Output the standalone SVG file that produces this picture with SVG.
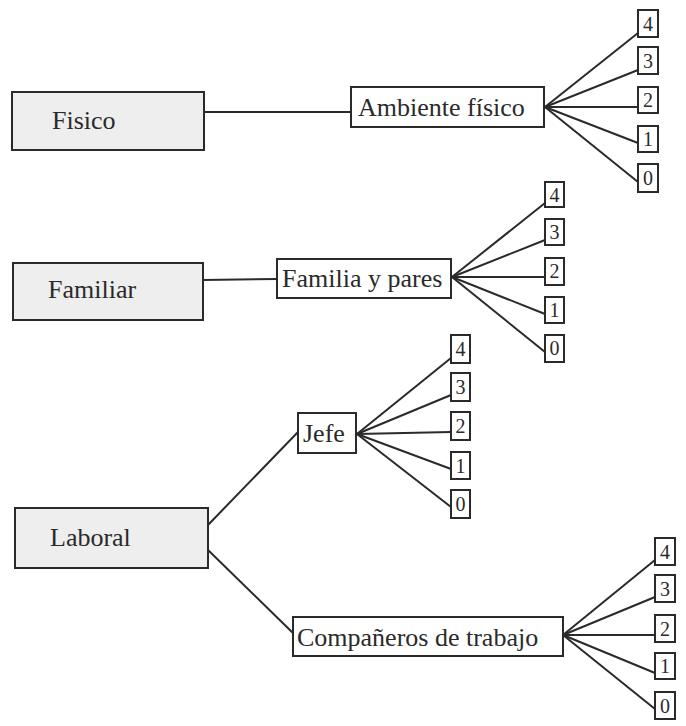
<svg xmlns="http://www.w3.org/2000/svg" width="686" height="726" viewBox="0 0 686 726">
<style>
.main{fill:#eeeeee;stroke:#2a2a2a;stroke-width:2}
.sub{fill:#ffffff;stroke:#2a2a2a;stroke-width:2}
.num{fill:#ffffff;stroke:#2a2a2a;stroke-width:2}
.t{font-family:"Liberation Serif","Times New Roman",serif;font-size:26px;fill:#2a2a2a}
.d{font-family:"Liberation Serif","Times New Roman",serif;font-size:20px;fill:#2a2a2a;text-anchor:middle}
.c line{stroke:#2a2a2a;stroke-width:2}
</style>
<rect width="686" height="726" fill="#ffffff"/>
<g id="connectors" class="c">
<line x1="204" y1="112" x2="351" y2="112"/>
<line x1="203" y1="280" x2="277" y2="279"/>
<line x1="208" y1="525" x2="298" y2="432"/>
<line x1="208" y1="550" x2="293" y2="633"/>
<line x1="545" y1="107" x2="638" y2="33"/>
<line x1="545" y1="107" x2="638" y2="70"/>
<line x1="545" y1="107" x2="638" y2="107"/>
<line x1="545" y1="107" x2="638" y2="143"/>
<line x1="545" y1="107" x2="638" y2="182"/>
<line x1="452" y1="277" x2="545" y2="203"/>
<line x1="452" y1="277" x2="545" y2="240"/>
<line x1="452" y1="277" x2="545" y2="277"/>
<line x1="452" y1="277" x2="545" y2="314"/>
<line x1="452" y1="277" x2="545" y2="352"/>
<line x1="357" y1="434" x2="451" y2="358"/>
<line x1="357" y1="434" x2="451" y2="395"/>
<line x1="357" y1="434" x2="451" y2="432"/>
<line x1="357" y1="434" x2="451" y2="469"/>
<line x1="357" y1="434" x2="451" y2="507"/>
<line x1="563" y1="635" x2="655" y2="560"/>
<line x1="563" y1="635" x2="655" y2="597"/>
<line x1="563" y1="635" x2="655" y2="635"/>
<line x1="563" y1="635" x2="655" y2="673"/>
<line x1="563" y1="635" x2="655" y2="709"/>
</g>
<g id="fisico"><rect class="main" x="12" y="92" width="192" height="58"/><text class="t" x="52" y="129">Fisico</text></g>
<g id="ambiente"><rect class="sub" x="351" y="87" width="193" height="40"/><text class="t" x="358" y="116">Ambiente físico</text></g>
<g id="familiar"><rect class="main" x="13" y="263" width="190" height="57"/><text class="t" x="48" y="298">Familiar</text></g>
<g id="familia"><rect class="sub" x="277" y="259" width="174" height="39"/><text class="t" x="282" y="287">Familia y pares</text></g>
<g id="laboral"><rect class="main" x="15" y="508" width="193" height="60"/><text class="t" x="50" y="546">Laboral</text></g>
<g id="jefe"><rect class="sub" x="298" y="413" width="58" height="40"/><text class="t" x="303" y="442">Jefe</text></g>
<g id="companeros"><rect class="sub" x="293" y="617" width="270" height="39"/><text class="t" x="297" y="646">Compañeros de trabajo</text></g>
<g id="g1-4"><rect class="num" x="638" y="10" width="20" height="27"/><text class="d" x="648" y="31">4</text></g>
<g id="g1-3"><rect class="num" x="638" y="47" width="20" height="27"/><text class="d" x="648" y="68">3</text></g>
<g id="g1-2"><rect class="num" x="638" y="87" width="20" height="26"/><text class="d" x="648" y="107">2</text></g>
<g id="g1-1"><rect class="num" x="638" y="126" width="20" height="26"/><text class="d" x="648" y="146">1</text></g>
<g id="g1-0"><rect class="num" x="638" y="164" width="20" height="28"/><text class="d" x="648" y="185">0</text></g>
<g id="g2-4"><rect class="num" x="545" y="182" width="19" height="25"/><text class="d" x="554.5" y="202">4</text></g>
<g id="g2-3"><rect class="num" x="545" y="219" width="19" height="26"/><text class="d" x="554.5" y="239">3</text></g>
<g id="g2-2"><rect class="num" x="545" y="258" width="19" height="27"/><text class="d" x="554.5" y="278">2</text></g>
<g id="g2-1"><rect class="num" x="545" y="297" width="19" height="26"/><text class="d" x="554.5" y="317">1</text></g>
<g id="g2-0"><rect class="num" x="545" y="335" width="19" height="27"/><text class="d" x="554.5" y="355">0</text></g>
<g id="g3-4"><rect class="num" x="451" y="335" width="19" height="28"/><text class="d" x="460.5" y="356">4</text></g>
<g id="g3-3"><rect class="num" x="451" y="373" width="19" height="28"/><text class="d" x="460.5" y="394">3</text></g>
<g id="g3-2"><rect class="num" x="451" y="412" width="19" height="28"/><text class="d" x="460.5" y="433">2</text></g>
<g id="g3-1"><rect class="num" x="451" y="452" width="19" height="27"/><text class="d" x="460.5" y="473">1</text></g>
<g id="g3-0"><rect class="num" x="451" y="490" width="19" height="28"/><text class="d" x="460.5" y="511">0</text></g>
<g id="g4-4"><rect class="num" x="655" y="538" width="20" height="27"/><text class="d" x="665" y="559">4</text></g>
<g id="g4-3"><rect class="num" x="655" y="575" width="20" height="27"/><text class="d" x="665" y="596">3</text></g>
<g id="g4-2"><rect class="num" x="655" y="615" width="20" height="27"/><text class="d" x="665" y="636">2</text></g>
<g id="g4-1"><rect class="num" x="655" y="653" width="20" height="26"/><text class="d" x="665" y="673">1</text></g>
<g id="g4-0"><rect class="num" x="655" y="692" width="20" height="27"/><text class="d" x="665" y="713">0</text></g>
</svg>
